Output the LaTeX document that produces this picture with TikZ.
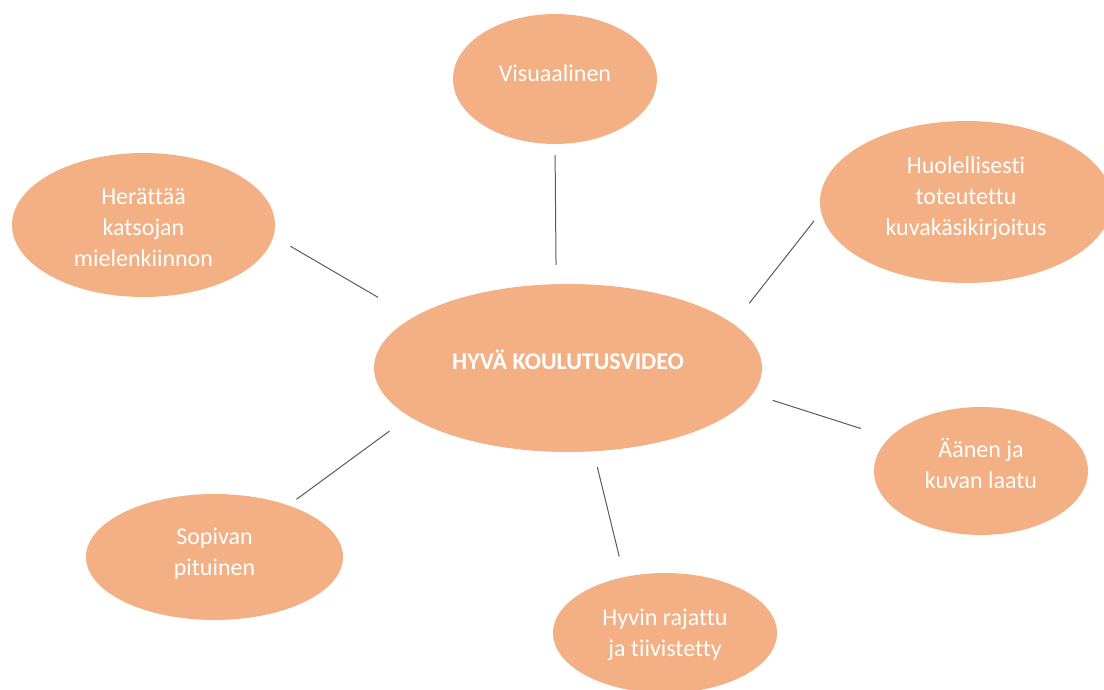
\documentclass[tikz,border=0pt]{standalone}
\usepackage{fontspec}
\setmainfont{Carlito}[Ligatures=NoCommon]
\usetikzlibrary{shapes.geometric}
\definecolor{ideafill}{HTML}{F2B084}
\definecolor{linkgray}{HTML}{5A5A5A}
\begin{document}
\begin{tikzpicture}[x=1pt,y=-1pt]
    \tikzstyle{idea} = [ellipse, fill=ideafill, inner sep=0pt]
    \tikzstyle{txt} = [text=white, align=center, font=\fontsize{24}{31}\selectfont]
    \tikzstyle{link} = [-, line width=1pt, linkgray]
    \clip (0,0) rectangle (1104,690);
        % centre
        \node[idea, minimum width=388, minimum height=168] (hub) at (568,368) {};
        % ideas round it
        \node[idea, minimum width=204, minimum height=130] (visual) at (555,79) {};
        \node[idea, minimum width=292, minimum height=162] (careful) at (966,202) {};
        \node[idea, minimum width=263, minimum height=144] (interest) at (143.5,225) {};
        \node[idea, minimum width=214, minimum height=128] (sound) at (981,471) {};
        \node[idea, minimum width=257, minimum height=126] (length) at (214.5,557) {};
        \node[idea, minimum width=224, minimum height=120] (cut) at (665,633) {};
        % links
        \draw[link, shorten <=19pt, shorten >=11pt] (hub.98.8) -- (visual.south);
        \draw[link, shorten <=26pt, shorten >=11pt] (hub.15) -- (careful.-176.4);
        \draw[link, shorten <=40pt, shorten >=19.5pt] (hub.162.2) -- (interest.-5.4);
        \draw[link, shorten <=21pt, shorten >=30pt] (hub.-8.3) -- (sound.160.1);
        \draw[link, shorten <=24.5pt, shorten >=10pt] (hub.-163.6) -- (length.35.3);
        \draw[link, shorten <=16pt, shorten >=21pt] (hub.-73.9) -- (cut.126.2);
        %%% labels
        \node[txt, font=\fontsize{24}{31}\selectfont\bfseries, yshift=8pt] (hub-t) at (hub) {HYVÄ KOULUTUSVIDEO};
        \node[txt, yshift=6pt] (visual-t) at (visual) {Visuaalinen};
        \node[txt, yshift=4pt] (careful-t) at (careful) {Huolellisesti\\toteutettu\\kuvakäsikirjoitus};
        \node[txt, yshift=-3pt] (interest-t) at (interest) {Herättää\\katsojan\\mielenkiinnon};
        \node[txt, yshift=8pt] (sound-t) at (sound) {Äänen ja\\kuvan laatu};
        \node[txt, yshift=3pt] (length-t) at (length) {Sopivan\\pituinen};
        \node[txt, yshift=-2pt] (cut-t) at (cut) {Hyvin rajattu\\ja tiivistetty};
    \end{tikzpicture}
\end{document}
